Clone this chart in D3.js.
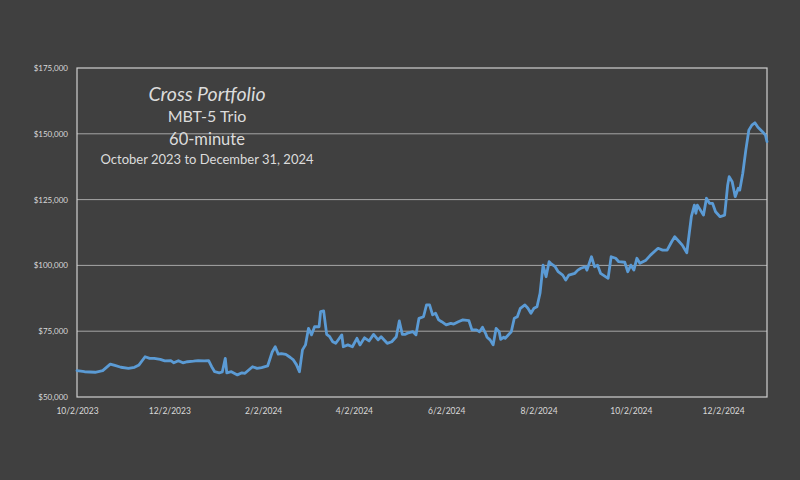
<!DOCTYPE html>
<html>
<head>
<meta charset="utf-8">
<script src="https://cdn.jsdelivr.net/npm/d3@7"></script>
<style>
    html, body { margin: 0; padding: 0; background: #404040; }
    #chart text { font-family: Lato, "Open Sans", sans-serif; }
    .tick text { fill: #d9d9d9; }
</style>
</head>
<body>
<div id="chart"></div>
<script>
var titleLines = ['Cross Portfolio', 'MBT-5 Trio', '60-minute', 'October 2023 to December 31, 2024'];

var dates = [
    '2023-10-02', '2023-10-07', '2023-10-14', '2023-10-19', '2023-10-24', '2023-10-27', '2023-10-31',
    '2023-11-05', '2023-11-09', '2023-11-12', '2023-11-16', '2023-11-19', '2023-11-22', '2023-11-26',
    '2023-11-29', '2023-12-03', '2023-12-05', '2023-12-08', '2023-12-11', '2023-12-14', '2023-12-18',
    '2023-12-21', '2023-12-25', '2023-12-28', '2023-12-30', '2024-01-01', '2024-01-04', '2024-01-06',
    '2024-01-08', '2024-01-09', '2024-01-12', '2024-01-16', '2024-01-19', '2024-01-21', '2024-01-26',
    '2024-01-29', '2024-02-01', '2024-02-05', '2024-02-08', '2024-02-10', '2024-02-12', '2024-02-14',
    '2024-02-17', '2024-02-20', '2024-02-22', '2024-02-24', '2024-02-26', '2024-02-28', '2024-03-01',
    '2024-03-03', '2024-03-05', '2024-03-07', '2024-03-10', '2024-03-11', '2024-03-13', '2024-03-15',
    '2024-03-17', '2024-03-19', '2024-03-21', '2024-03-25', '2024-03-26', '2024-03-29', '2024-04-01',
    '2024-04-04', '2024-04-06', '2024-04-09', '2024-04-12', '2024-04-15', '2024-04-18', '2024-04-20',
    '2024-04-24', '2024-04-27', '2024-04-30', '2024-05-02', '2024-05-04', '2024-05-06', '2024-05-08',
    '2024-05-11', '2024-05-13', '2024-05-15', '2024-05-18', '2024-05-20', '2024-05-22', '2024-05-24',
    '2024-05-26', '2024-05-28', '2024-05-30', '2024-06-02', '2024-06-05', '2024-06-07', '2024-06-10',
    '2024-06-13', '2024-06-17', '2024-06-19', '2024-06-22', '2024-06-24', '2024-06-26', '2024-06-28',
    '2024-06-29', '2024-07-01', '2024-07-03', '2024-07-05', '2024-07-07', '2024-07-08', '2024-07-10',
    '2024-07-11', '2024-07-15', '2024-07-17', '2024-07-19', '2024-07-21', '2024-07-24', '2024-07-26',
    '2024-07-28', '2024-07-30', '2024-08-01', '2024-08-03', '2024-08-05', '2024-08-07', '2024-08-09',
    '2024-08-10', '2024-08-13', '2024-08-15', '2024-08-18', '2024-08-20', '2024-08-22', '2024-08-26',
    '2024-08-28', '2024-08-30', '2024-09-02', '2024-09-03', '2024-09-06', '2024-09-08', '2024-09-10',
    '2024-09-12', '2024-09-17', '2024-09-19', '2024-09-22', '2024-09-24', '2024-09-28', '2024-09-30',
    '2024-10-02', '2024-10-04', '2024-10-06', '2024-10-08', '2024-10-12', '2024-10-15', '2024-10-20',
    '2024-10-23', '2024-10-26', '2024-10-29', '2024-10-31', '2024-11-03', '2024-11-05', '2024-11-08',
    '2024-11-11', '2024-11-13', '2024-11-14', '2024-11-15', '2024-11-17', '2024-11-19', '2024-11-21',
    '2024-11-23', '2024-11-25', '2024-11-27', '2024-11-30', '2024-12-03', '2024-12-05', '2024-12-06',
    '2024-12-08', '2024-12-10', '2024-12-12', '2024-12-13', '2024-12-15', '2024-12-17', '2024-12-19',
    '2024-12-21', '2024-12-23', '2024-12-25', '2024-12-28', '2024-12-30', '2024-12-31'
];

var values = [
    60000, 59600, 59400, 60000, 62500, 62000, 61300,
    60900, 61300, 62200, 65300, 64700, 64700, 64300,
    63700, 63800, 63000, 63800, 63000, 63400, 63600,
    63800, 63700, 63800, 61500, 59600, 59200, 59500,
    64700, 59200, 59600, 58400, 59200, 59000, 61500,
    60900, 61200, 61800, 67100, 69100, 66300, 66500,
    66200, 65000, 64100, 62300, 59600, 67900, 69800,
    76100, 73600, 76700, 76700, 82400, 82700, 73800,
    72900, 71000, 70400, 73600, 69100, 69800, 69100,
    72300, 69800, 72500, 71300, 73800, 71700, 72900,
    70400, 71000, 72900, 78900, 73800, 73800, 74400,
    74800, 73600, 79900, 80500, 85000, 85000, 81200,
    81800, 79300, 78600, 77400, 78000, 77700, 78600,
    79300, 79000, 75500, 75500, 74800, 76500, 74200,
    72700, 71700, 69800, 76100, 74800, 71900, 72700,
    72300, 74800, 79900, 80500, 83700, 85000, 83700,
    81800, 83700, 84300, 89400, 100100, 95700, 101400,
    100800, 99500, 97600, 96300, 94400, 96300, 97000,
    98200, 98900, 99500, 98200, 103300, 99500, 100100,
    97000, 95100, 103300, 102700, 101400, 101200, 97600,
    100100, 98200, 102700, 100800, 102000, 103900, 106500,
    105800, 105800, 109000, 110900, 109000, 107700, 104800,
    118500, 122900, 119800, 122900, 121000, 119100, 125500,
    123600, 123600, 120400, 118500, 119100, 130500, 133700,
    131800, 126100, 129300, 128600, 135000, 143800, 151400,
    153300, 154200, 152500, 150800, 149500, 147000
];

var yTicks = [50000, 75000, 100000, 125000, 150000, 175000];
var xTickLabels = ['10/2/2023', '12/2/2023', '2/2/2024', '4/2/2024', '6/2/2024', '8/2/2024', '10/2/2024', '12/2/2024'];

var width = 800, height = 480;
var plot = { left: 77, right: 767, top: 68, bottom: 397 };

var parseIso = d3.timeParse('%Y-%m-%d');
var parseUs = d3.timeParse('%m/%d/%Y');

var series = dates.map(function(d, i) {
    return { date: parseIso(d), value: values[i] };
});

var svg = d3.select('#chart')
    .append('svg')
    .attr('width', width)
    .attr('height', height);

svg.append('rect')
    .attr('width', width)
    .attr('height', height)
    .attr('fill', '#404040');

var x = d3.scaleTime()
    .domain([parseIso('2023-10-02'), parseIso('2024-12-31')])
    .range([plot.left, plot.right]);

var y = d3.scaleLinear()
    .domain([50000, 175000])
    .range([plot.bottom, plot.top]);

// gridlines
svg.append('g')
    .selectAll('line')
    .data(yTicks.slice(1, -1))
    .enter()
    .append('line')
    .attr('x1', plot.left)
    .attr('x2', plot.right)
    .attr('y1', function(d) { return y(d); })
    .attr('y2', function(d) { return y(d); })
    .attr('stroke', '#a6a6a6')
    .attr('stroke-width', 1);

// plot frame
svg.append('rect')
    .attr('x', plot.left)
    .attr('y', plot.top)
    .attr('width', plot.right - plot.left)
    .attr('height', plot.bottom - plot.top)
    .attr('fill', 'none')
    .attr('stroke', '#d0d0d0')
    .attr('stroke-width', 1.2);

var yAxis = d3.axisLeft(y)
    .tickValues(yTicks)
    .tickSize(0)
    .tickPadding(9)
    .tickFormat(function(d) { return '$' + d3.format(',')(d); });

svg.append('g')
    .attr('transform', 'translate(' + plot.left + ',0)')
    .call(yAxis)
    .call(function(g) { g.select('.domain').remove(); })
    .selectAll('text')
    .style('font-size', '8px');

var xAxis = d3.axisBottom(x)
    .tickValues(xTickLabels.map(parseUs))
    .tickSize(0)
    .tickPadding(11)
    .tickFormat(d3.timeFormat('%-m/%-d/%Y'));

svg.append('g')
    .attr('transform', 'translate(0,' + plot.bottom + ')')
    .call(xAxis)
    .call(function(g) { g.select('.domain').remove(); })
    .selectAll('text')
    .style('font-size', '8.5px');

var line = d3.line()
    .x(function(d) { return x(d.date); })
    .y(function(d) { return y(d.value); });

svg.append('path')
    .datum(series)
    .attr('d', line)
    .attr('fill', 'none')
    .attr('stroke', '#5b9bd5')
    .attr('stroke-width', 2.8)
    .attr('stroke-linejoin', 'round')
    .attr('stroke-linecap', 'round');

// title block
var titleStyle = [
    { y: 101, size: 19.5, italic: true },
    { y: 122, size: 16, italic: false },
    { y: 145, size: 16.5, italic: false },
    { y: 164, size: 13, italic: false }
];

svg.append('g')
    .selectAll('text')
    .data(titleLines)
    .enter()
    .append('text')
    .attr('x', 207)
    .attr('y', function(d, i) { return titleStyle[i].y; })
    .attr('text-anchor', 'middle')
    .attr('fill', '#dcdcdc')
    .style('font-size', function(d, i) { return titleStyle[i].size + 'px'; })
    .style('font-style', function(d, i) { return titleStyle[i].italic ? 'italic' : 'normal'; })
    .text(function(d) { return d; });
</script>
</body>
</html>
